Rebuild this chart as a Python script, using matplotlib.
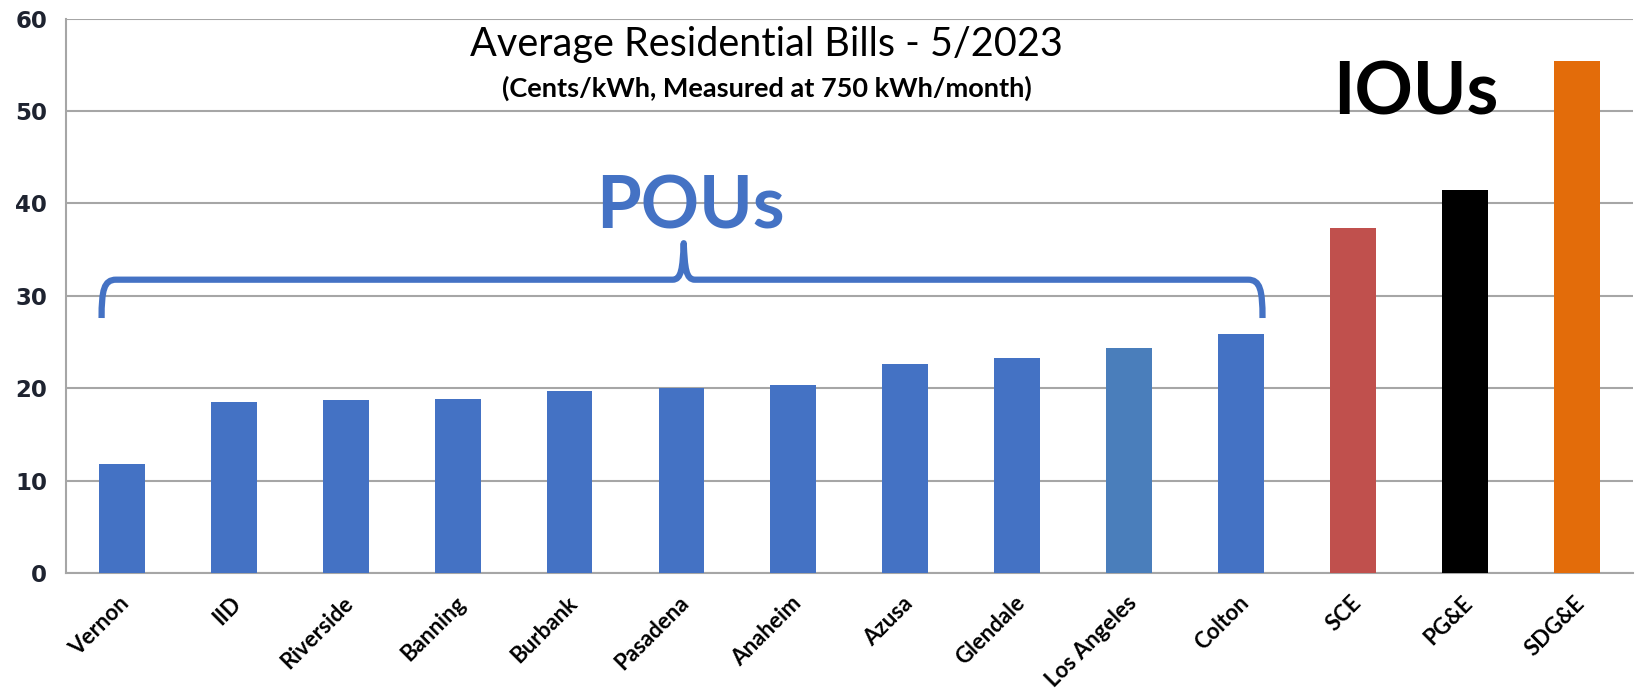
import matplotlib
matplotlib.use("Agg")
import matplotlib.pyplot as plt
from matplotlib.path import Path
from matplotlib.patches import PathPatch
from matplotlib.transforms import ScaledTranslation

categories = ["Vernon", "IID", "Riverside", "Banning", "Burbank", "Pasadena", "Anaheim",
              "Azusa", "Glendale", "Los Angeles", "Colton", "SCE", "PG&E", "SDG&E"]
values = [11.8, 18.5, 18.7, 18.8, 19.7, 20.0, 20.3, 22.6, 23.3, 24.4, 25.9, 37.3, 41.5, 55.4]
colors = ["#4472C4"] * 9 + ["#4A7EBB", "#4472C4", "#C0504D", "#000000", "#E36C0A"]
yticks = [0, 10, 20, 30, 40, 50, 60]

fig = plt.figure(figsize=(16.36, 6.94), dpi=100)
ax = fig.add_axes([0.0402, 0.1744, 0.958, 0.7986])

x = list(range(len(categories)))
ax.bar(x, values, width=0.41, color=colors, zorder=3)

ax.set_xlim(-0.5, len(categories) - 0.5)
ax.set_ylim(0, 60)
ax.set_yticks(yticks)
ax.set_yticklabels([str(t) for t in yticks], fontfamily="DejaVu Sans", fontweight="bold",
                   fontsize=16.5, color="#1E2330")
ax.yaxis.grid(True, color="#A6A6A6", linewidth=1.5, zorder=0)
ax.set_axisbelow(True)
ax.tick_params(axis="y", length=0, pad=13.5)
ax.tick_params(axis="x", length=0, pad=14)
for s in ["top", "right"]:
    ax.spines[s].set_visible(False)
for s in ["left", "bottom"]:
    ax.spines[s].set_color("#A6A6A6")
    ax.spines[s].set_linewidth(1.5)

ax.set_xticks(x)
ax.set_xticklabels(categories, rotation=45, ha="right", rotation_mode="anchor",
                   fontfamily="Lato", fontweight="bold", fontsize=16,
                   color="#000000")
offset = ScaledTranslation(-0.03, 0, fig.dpi_scale_trans)
for lab in ax.get_xticklabels():
    lab.set_transform(lab.get_transform() + offset)

# Title and subtitle
ax.text(5.76, 57.2, "Average Residential Bills - 5/2023", ha="center", va="center",
        fontfamily="Lato", fontsize=28.5, color="#000000")
ax.text(5.76, 52.5, "(Cents/kWh, Measured at 750 kWh/month)", ha="center", va="center",
        fontfamily="Lato", fontweight="bold", fontsize=19.5, color="#000000")

# Group labels
ax.text(5.08, 39.5, "POUs", ha="center", va="center", fontfamily="Lato", fontweight="bold",
        fontsize=52, color="#4472C4")
ax.text(11.56, 51.9, "IOUs", ha="center", va="center", fontfamily="Lato", fontweight="bold",
        fontsize=52, color="#000000")

# Curly brace over POUs
x0, x1, xc = -0.18, 10.19, 5.02
yb, ye, yt = 31.75, 27.6, 35.7
verts = [
    (x0, ye), (x0, 30.6), (x0 + 0.02, yb), (x0 + 0.13, yb),
    (xc - 0.1, yb),
    (xc - 0.02, yb), (xc - 0.01, 33.0), (xc, yt),
    (xc + 0.01, 33.0), (xc + 0.02, yb), (xc + 0.1, yb),
    (x1 - 0.13, yb),
    (x1 - 0.02, yb), (x1, 30.6), (x1, ye),
]
codes = [Path.MOVETO, Path.CURVE4, Path.CURVE4, Path.CURVE4,
         Path.LINETO,
         Path.CURVE4, Path.CURVE4, Path.CURVE4,
         Path.CURVE4, Path.CURVE4, Path.CURVE4,
         Path.LINETO,
         Path.CURVE4, Path.CURVE4, Path.CURVE4]
ax.add_patch(PathPatch(Path(verts, codes), fill=False, edgecolor="#4472C4", linewidth=4.5,
                       capstyle="butt", joinstyle="round", zorder=4))

fig.savefig("out.png", dpi=100, facecolor="white")
